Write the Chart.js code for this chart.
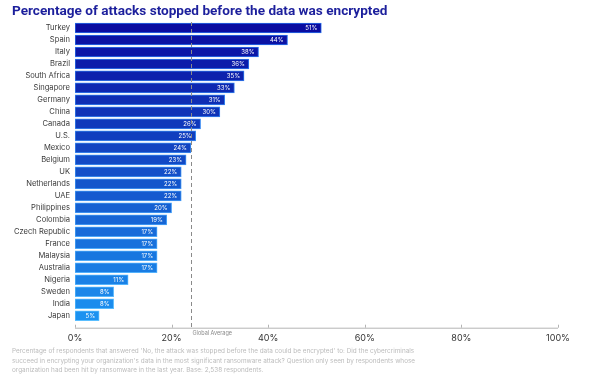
<!DOCTYPE html>
<html>
<head>
<meta charset="utf-8">
<script src="https://cdn.jsdelivr.net/npm/chart.js@4"></script>
<style>
  html, body { margin: 0; padding: 0; background: #fff; }
  #wrap { position: relative; width: 600px; height: 378px; overflow: hidden; font-family: Inter, Roboto, sans-serif; }
  #title { position: absolute; left: 12px; top: 2px; font: bold 13.6px Roboto, sans-serif; color: #1c1f9c; white-space: nowrap; }
  #chartBox { position: absolute; left: 0; top: 0; width: 600px; height: 378px; }
  #note { position: absolute; left: 12px; top: 347px; font-size: 6.4px; line-height: 9.6px; color: #bcbcbc; white-space: nowrap; }
</style>
</head>
<body>
<div id="wrap">
  <div id="chartBox"><canvas id="attackChart"></canvas></div>
  <div id="title">Percentage of attacks stopped before the data was encrypted</div>
  <div id="note">Percentage of respondents that answered 'No, the attack was stopped before the data could be encrypted' to: Did the cybercriminals<br>succeed in encrypting your organization's data in the most significant ransomware attack? Question only seen by respondents whose<br>organization had been hit by ransomware in the last year. Base: 2,538 respondents.</div>
</div>
<script>
const countries = ['Turkey', 'Spain', 'Italy', 'Brazil', 'South Africa', 'Singapore', 'Germany', 'China',
    'Canada', 'U.S.', 'Mexico', 'Belgium', 'UK', 'Netherlands', 'UAE', 'Philippines', 'Colombia',
    'Czech Republic', 'France', 'Malaysia', 'Australia', 'Nigeria', 'Sweden', 'India', 'Japan'];
const stoppedPct = [51, 44, 38, 36, 35, 33, 31, 30, 26, 25, 24, 23, 22, 22, 22, 20, 19, 17, 17, 17, 17, 11, 8, 8, 5];
const xTicks = [0, 20, 40, 60, 80, 100];
const globalAverage = 24;

// colour ramp from navy at the top to light blue at the bottom
function mix(a, b, t) {
    return a.map((v, i) => Math.round(v + (b[i] - v) * t));
}
const topFill = [10, 12, 160], botFill = [28, 146, 240];
const topEdge = [40, 110, 235], botEdge = [90, 190, 255];
const n = countries.length;
const fills = countries.map((c, i) => 'rgb(' + mix(topFill, botFill, i / (n - 1)).join(',') + ')');
const edges = countries.map((c, i) => 'rgb(' + mix(topEdge, botEdge, i / (n - 1)).join(',') + ')');

const extrasPlugin = {
    id: 'extras',
    afterDatasetsDraw(chart) {
        const ctx = chart.ctx;
        const x = chart.scales.x;
        const area = chart.chartArea;
        const axisY = area.bottom + 6;

        // values inside the bars
        const meta = chart.getDatasetMeta(0);
        ctx.save();
        ctx.fillStyle = '#ffffff';
        ctx.font = '6px Inter, Roboto, sans-serif';
        ctx.textAlign = 'right';
        ctx.textBaseline = 'middle';
        meta.data.forEach((bar, i) => {
            ctx.fillText(stoppedPct[i] + '%', bar.x - 4, bar.y + 0.5);
        });

        // global average dashed line
        const gx = Math.round(x.getPixelForValue(globalAverage)) + 0.5;
        ctx.strokeStyle = '#8a8a8a';
        ctx.lineWidth = 1;
        ctx.setLineDash([4, 3]);
        ctx.beginPath();
        ctx.moveTo(gx, area.top);
        ctx.lineTo(gx, axisY);
        ctx.stroke();
        ctx.setLineDash([]);
        ctx.fillStyle = '#888888';
        ctx.font = '5.5px Inter, Roboto, sans-serif';
        ctx.textAlign = 'left';
        ctx.fillText('Global Average', gx + 1, axisY + 6);

        // axis line with small upward ticks
        ctx.strokeStyle = '#b4b4b4';
        ctx.beginPath();
        ctx.moveTo(x.getPixelForValue(0), axisY + 0.5);
        ctx.lineTo(x.getPixelForValue(100), axisY + 0.5);
        xTicks.forEach(v => {
            const tx = Math.round(x.getPixelForValue(v)) + 0.5;
            ctx.moveTo(tx, axisY - 3);
            ctx.lineTo(tx, axisY);
        });
        ctx.stroke();
        ctx.restore();
    }
};

new Chart(document.getElementById('attackChart').getContext('2d'), {
    type: 'bar',
    data: {
        labels: countries,
        datasets: [{
            data: stoppedPct,
            backgroundColor: fills,
            borderColor: edges,
            borderWidth: 1,
            borderSkipped: false,
            barThickness: 10
        }]
    },
    options: {
        indexAxis: 'y',
        responsive: true,
        maintainAspectRatio: false,
        animation: false,
        layout: {
            padding: { top: 22, right: 42, bottom: 22.5, left: 0 }
        },
        plugins: {
            legend: { display: false },
            tooltip: { enabled: false }
        },
        scales: {
            x: {
                min: 0,
                max: 100,
                afterBuildTicks: scale => {
                    scale.ticks = xTicks.map(v => ({ value: v }));
                },
                grid: { display: false, drawTicks: false },
                border: { display: false },
                ticks: {
                    color: '#333333',
                    padding: 11.5,
                    font: { family: 'Inter, Roboto, sans-serif', size: 9 },
                    callback: value => value + '%'
                }
            },
            y: {
                afterFit: scale => { scale.width = 75; },
                grid: { display: false, drawTicks: false },
                border: { display: false },
                ticks: {
                    color: '#3a3a3a',
                    padding: 5,
                    autoSkip: false,
                    font: { family: 'Inter, Roboto, sans-serif', size: 7.6 }
                }
            }
        }
    },
    plugins: [extrasPlugin]
});
</script>
</body>
</html>
